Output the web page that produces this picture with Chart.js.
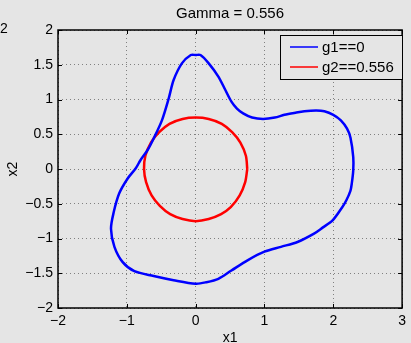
<!DOCTYPE html>
<html>
<head>
<meta charset="utf-8">
<script src="https://cdn.jsdelivr.net/npm/chart.js@4/dist/chart.umd.min.js"></script>
<style>
  html, body { margin: 0; padding: 0; background: #e5e5e5; overflow: hidden; }
  #wrap { width: 411px; height: 343px; position: relative; }
</style>
</head>
<body>
<div id="wrap"><canvas id="c" width="411" height="343"></canvas></div>
<script>
// ---- data ----
const titleText = "Gamma = 0.556";
const seriesNames = ["g1==0", "g2==0.556"];
const xTicks = [-2, -1, 0, 1, 2, 3];
const yTicks = [-2, -1.5, -1, -0.5, 0, 0.5, 1, 1.5, 2];

// g1 == 0 contour (closed loop, clockwise from the top)
const blueX = [0, 0.07, 0.19, 0.33, 0.43, 0.52, 0.60, 0.69, 0.82, 0.98, 1.15, 1.29, 1.45, 1.58, 1.75, 1.87, 2.00, 2.11, 2.20, 2.25, 2.29, 2.29, 2.27, 2.25, 2.19, 2.13, 1.99, 1.85, 1.72, 1.48, 1.24, 1.00, 0.76, 0.52, 0.33, 0.15, 0, -0.32, -0.61, -0.89, -1.06, -1.18, -1.23, -1.19, -1.11, -0.99, -0.87, -0.80, -0.70, -0.61, -0.49, -0.39, -0.32, -0.20, -0.07, 0];
const blueY = [1.64, 1.64, 1.52, 1.33, 1.14, 0.97, 0.87, 0.80, 0.74, 0.72, 0.74, 0.78, 0.81, 0.83, 0.84, 0.83, 0.78, 0.70, 0.58, 0.45, 0.17, -0.02, -0.20, -0.31, -0.45, -0.55, -0.74, -0.84, -0.93, -1.05, -1.12, -1.19, -1.31, -1.46, -1.58, -1.63, -1.65, -1.60, -1.54, -1.47, -1.34, -1.12, -0.86, -0.62, -0.35, -0.14, 0.01, 0.13, 0.27, 0.44, 0.70, 1.02, 1.28, 1.52, 1.64, 1.64];

// g2 == 0.556 contour (the circle)
const redX = [0.75, 0.73, 0.65, 0.53, 0.38, 0.19, 0, -0.19, -0.38, -0.53, -0.65, -0.73, -0.75, -0.72, -0.64, -0.52, -0.37, -0.19, 0, 0.19, 0.37, 0.51, 0.64, 0.72, 0.75];
const redY = [0, 0.19, 0.38, 0.53, 0.65, 0.72, 0.74, 0.72, 0.65, 0.53, 0.38, 0.19, 0, -0.19, -0.38, -0.53, -0.65, -0.72, -0.75, -0.72, -0.65, -0.55, -0.38, -0.19, 0];

const seriesColors = ["#0000ff", "#ff0000"];
const FONT = "'Liberation Sans', Arial, Helvetica, sans-serif";

const toPts = (xs, ys) => xs.map((x, i) => ({ x, y: ys[i] }));
const fmt = v => (v < 0 ? "\u2212" + Math.abs(v) : String(v));

// frame, inner ticks, titles and legend in MATLAB style
const matlabDecor = {
    id: "matlabDecor",
    beforeDraw(chart) {
        const { ctx } = chart;
        ctx.save();
        ctx.fillStyle = "#e5e5e5";
        ctx.fillRect(0, 0, chart.width, chart.height);
        ctx.restore();
    },
    afterDraw(chart) {
        const { ctx, chartArea: a, scales } = chart;
        ctx.save();
        // inner tick marks on all four sides
        ctx.strokeStyle = "#000"; ctx.lineWidth = 1;
        const t = 4;
        ctx.beginPath();
        xTicks.forEach(v => {
            const px = Math.round(scales.x.getPixelForValue(v)) + 0.5;
            ctx.moveTo(px, a.bottom); ctx.lineTo(px, a.bottom - t);
            ctx.moveTo(px, a.top); ctx.lineTo(px, a.top + t);
        });
        yTicks.forEach(v => {
            const py = Math.round(scales.y.getPixelForValue(v)) + 0.5;
            ctx.moveTo(a.left, py); ctx.lineTo(a.left + t, py);
            ctx.moveTo(a.right, py); ctx.lineTo(a.right - t, py);
        });
        ctx.stroke();
        // frame
        ctx.lineWidth = 1.5;
        ctx.strokeRect(a.left, a.top, a.right - a.left, a.bottom - a.top);

        // title + axis labels
        ctx.fillStyle = "#000";
        ctx.textAlign = "center"; ctx.textBaseline = "middle";
        ctx.font = "15px " + FONT;
        ctx.fillText(titleText, (a.left + a.right) / 2, 14);
        ctx.font = "14px " + FONT;
        ctx.fillText("x1", (a.left + a.right) / 2, 338);
        ctx.save();
        ctx.translate(13, (a.top + a.bottom) / 2);
        ctx.rotate(-Math.PI / 2);
        ctx.fillText("x2", 0, 0);
        ctx.restore();
        // stray label clipped at the left edge
        ctx.textAlign = "left";
        ctx.fillText("2", 0, 29);

        // legend box
        const lx = 280, ly = 35, lw = 122, lh = 44;
        ctx.fillStyle = "#e5e5e5";
        ctx.fillRect(lx, ly, lw, lh);
        ctx.strokeStyle = "#000"; ctx.lineWidth = 1;
        ctx.strokeRect(lx + 0.5, ly + 0.5, lw, lh);
        ctx.font = "15px " + FONT;
        chart.data.datasets.forEach((ds, i) => {
            const y = ly + 12 + i * 20;
            ctx.strokeStyle = ds.borderColor; ctx.lineWidth = 1.5;
            ctx.beginPath(); ctx.moveTo(lx + 10, y); ctx.lineTo(lx + 38, y); ctx.stroke();
            ctx.fillStyle = "#000";
            ctx.textAlign = "left"; ctx.textBaseline = "middle";
            ctx.fillText(ds.label, lx + 42, y + 1);
        });
        ctx.restore();
    }
};

new Chart(document.getElementById("c"), {
    type: "scatter",
    data: {
        datasets: [
            { label: seriesNames[0], data: toPts(blueX, blueY), borderColor: seriesColors[0], borderWidth: 2.5, showLine: true, pointRadius: 0, tension: 0.3, fill: false },
            { label: seriesNames[1], data: toPts(redX, redY), borderColor: seriesColors[1], borderWidth: 2.5, showLine: true, pointRadius: 0, tension: 0.3, fill: false }
        ]
    },
    options: {
        responsive: false,
        animation: false,
        layout: { padding: { left: 0, right: 6, top: 30, bottom: 0 } },
        plugins: { legend: { display: false }, title: { display: false }, tooltip: { enabled: false } },
        scales: {
            x: {
                type: "linear", min: -2, max: 3,
                afterBuildTicks: s => { s.ticks = xTicks.map(value => ({ value })); },
                afterFit: s => { s.height = 35; },
                border: { display: false, dash: [1, 3] },
                grid: { color: "#808080", drawTicks: false, lineWidth: 1 },
                ticks: { color: "#000", font: { family: FONT, size: 14 }, padding: 5, maxRotation: 0, callback: v => fmt(v) }
            },
            y: {
                type: "linear", min: -2, max: 2,
                afterBuildTicks: s => { s.ticks = yTicks.map(value => ({ value })); },
                afterFit: s => { s.width = 58; },
                border: { display: false, dash: [1, 3] },
                grid: { color: "#808080", drawTicks: false, lineWidth: 1 },
                ticks: { color: "#000", font: { family: FONT, size: 14 }, padding: 5, callback: v => fmt(v) }
            }
        }
    },
    plugins: [matlabDecor]
});
</script>
</body>
</html>
